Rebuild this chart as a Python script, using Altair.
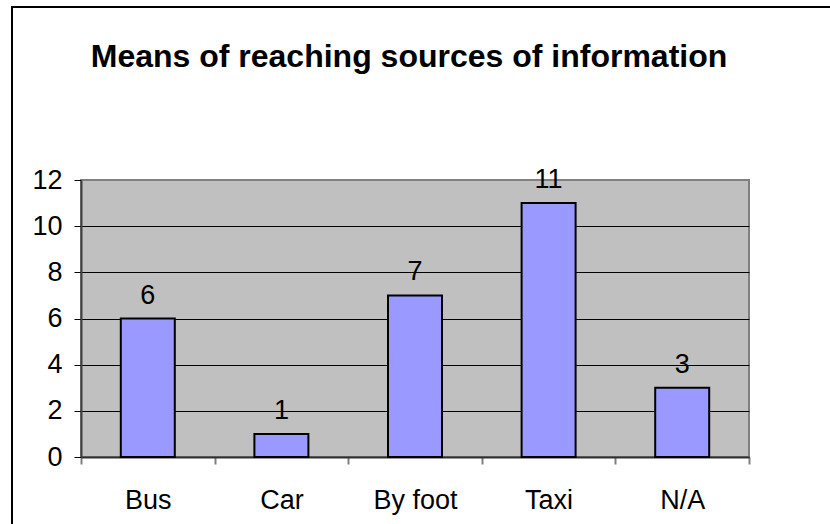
import altair as alt
import pandas as pd

# Chart content
chart_title = "Means of reaching sources of information"
categories = ["Bus", "Car", "By foot", "Taxi", "N/A"]
counts = [6, 1, 7, 11, 3]
y_ticks = [0, 2, 4, 6, 8, 10, 12]

df = pd.DataFrame({"means": categories, "count": counts})
title_df = pd.DataFrame({"label": [chart_title]})

FONT = "Liberation Sans"
PAGE_W, PAGE_H = 830, 524
PLOT_W, PLOT_H = 668, 277
LEFT, TOP = 81, 180

x_enc = alt.X(
    "means:N",
    sort=categories,
    scale=alt.Scale(paddingInner=0, paddingOuter=0),
    axis=alt.Axis(
        title=None,
        labelAngle=0,
        labelFont=FONT,
        labelFontSize=27,
        labelColor="black",
        labelBaseline="alphabetic",
        labelPadding=44,
        tickBand="extent",
        tickSize=7,
        tickColor="#808080",
        tickWidth=2,
        domainColor="#303030",
        domainWidth=2,
        grid=False,
    ),
)

y_enc = alt.Y(
    "count:Q",
    scale=alt.Scale(domain=[0, 12], nice=False),
    axis=alt.Axis(
        title=None,
        values=y_ticks,
        labelFont=FONT,
        labelFontSize=27,
        labelColor="black",
        labelPadding=12,
        tickSize=7,
        tickColor="black",
        tickWidth=1,
        domainColor="#404040",
        domainWidth=2,
        grid=True,
        gridColor={"condition": {"test": "datum.value === 12", "value": "#808080"}, "value": "black"},
        gridWidth=1,
    ),
)

bars = alt.Chart(df).mark_bar(
    size=54, fill="#9999FF", stroke="black", strokeWidth=2
).encode(x=x_enc, y=y_enc)

labels = alt.Chart(df).mark_text(
    font=FONT, fontSize=27, color="black", baseline="alphabetic", dy=-15
).encode(x=alt.X("means:N", sort=categories), y="count:Q", text="count:Q")

title = alt.Chart(title_df).mark_text(
    font=FONT, fontSize=32, fontWeight="bold", color="black",
    align="center", baseline="alphabetic",
).encode(x=alt.value(409 - LEFT), y=alt.value(67 - TOP), text="label:N")

# Outer chart frame
frame = alt.Chart(title_df).mark_rect(
    fill=None, fillOpacity=0, stroke="black", strokeWidth=2
).encode(
    x=alt.value(12 - LEFT), x2=alt.value(900 - LEFT),
    y=alt.value(7 - TOP), y2=alt.value(600 - TOP),
)

chart = alt.layer(frame, bars, labels, title).properties(
    width=PLOT_W,
    height=PLOT_H,
    autosize=alt.AutoSizeParams(type="none"),
    padding={
        "left": LEFT,
        "top": TOP,
        "right": PAGE_W - LEFT - PLOT_W,
        "bottom": PAGE_H - TOP - PLOT_H,
    },
    background="white",
).configure_view(
    fill="#C0C0C0", stroke="#808080", strokeWidth=2
)

chart.save("out.html", embed_options={"renderer": "svg", "actions": False})
